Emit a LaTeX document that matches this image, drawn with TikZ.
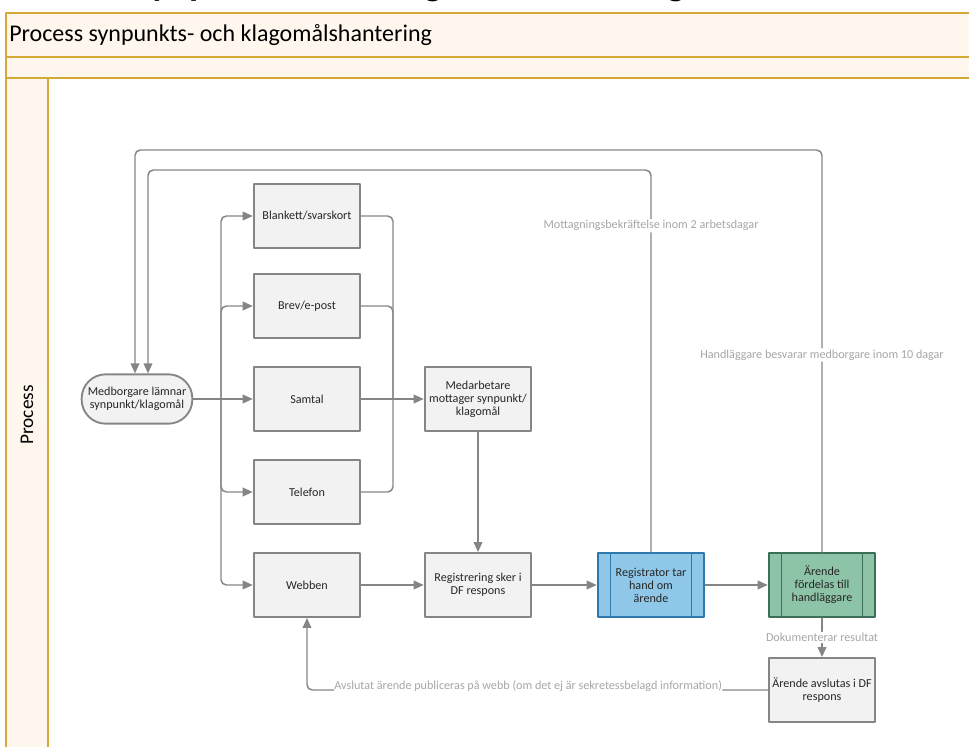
\documentclass[tikz,border=0pt]{standalone}
\usepackage{fontspec}
\setmainfont{Carlito}
\usetikzlibrary{positioning, arrows.meta}
\tikzset{>=latex}
\usepackage{xcolor}
\definecolor{poolgold}{HTML}{D4A935}
\definecolor{poolfill}{HTML}{FFF7EE}
\definecolor{boxgray}{HTML}{F2F2F2}
\definecolor{linegray}{HTML}{858585}
\definecolor{lblgray}{HTML}{A6A6A6}
\definecolor{regblue}{HTML}{8FC7E8}
\definecolor{regblueline}{HTML}{2F78AE}
\definecolor{fordgreen}{HTML}{8DC3A7}
\definecolor{fordgreenline}{HTML}{3D6E57}

\begin{document}
\begin{tikzpicture}[x=0.75pt, y=-0.75pt,
                    line cap=round, line join=round,
                    lane/.style={draw=poolgold, fill=poolfill, line width=1.5pt},
                    box/.style={draw=linegray, fill=boxgray, line width=1.4pt,
                                minimum width=80pt, minimum height=48pt, align=center,
                                inner sep=2pt, text=black!85,
                                font=\fontsize{9.1}{9.8}\selectfont},
                    start/.style={box, minimum width=83pt, minimum height=37pt,
                                  rounded corners=18pt},
                    subproc/.style={box, path picture={
                        \draw[line width=1.2pt]
                          ([xshift=9.5pt]path picture bounding box.north west) --
                          ([xshift=9.5pt]path picture bounding box.south west);
                        \draw[line width=1.2pt]
                          ([xshift=-9.5pt]path picture bounding box.north east) --
                          ([xshift=-9.5pt]path picture bounding box.south east);}},
                    conn/.style={linegray, line width=1.1pt, rounded corners=4pt},
                    arrow/.style={conn, -{Triangle[length=7.5pt,width=6.5pt]}},
                    lbl/.style={text=lblgray, fill=white, inner sep=1pt,
                                font=\fontsize{9.1}{9.8}\selectfont}]
  \path[use as bounding box, clip] (0,0) rectangle (969,746);

  % cut title
  \node[anchor=base west, inner sep=0pt, font=\bfseries\fontsize{28}{28}\selectfont]
    (title) at (12,-4.5) {Process synpunkts- och klagomålshantering};

  % pool and lane
  \draw[lane] (6,13) rectangle (990,57);
  \draw[lane] (6,57) rectangle (990,78);
  \draw[lane] (6,78) rectangle (48,770);
  \draw[draw=poolgold, line width=1.5pt] (48,78) rectangle (990,770);
  \node[anchor=west, inner sep=0pt, font=\fontsize{18}{20}\selectfont]
    (pool) at (9,35) {Process synpunkts- och klagomålshantering};
  \node[rotate=90, inner sep=0pt, font=\fontsize{14.5}{16}\selectfont]
    (lanename) at (27,415) {Process};

  % nodes
  \node[start] (medb) at (137,399) {Medborgare lämnar\\synpunkt/klagomål};
  \node[box] (blank) at (307,216) {Blankett/svarskort};
  \node[box] (brev) at (307,306) {Brev/e-post};
  \node[box] (samtal) at (307,399) {Samtal};
  \node[box] (tele) at (307,492) {Telefon};
  \node[box] (webb) at (307,585) {Webben};
  \node[box] (medarb) at (478,399) {Medarbetare\\mottager synpunkt/\\klagomål};
  \node[box] (regist) at (478,585) {Registrering sker i\\DF respons};
  \node[subproc, fill=regblue, draw=regblueline] (regtor) at (651,585)
    {Registrator tar\\hand om\\ärende};
  \node[subproc, fill=fordgreen, draw=fordgreenline] (fordel) at (822,585)
    {Ärende\\fördelas till\\handläggare};
  \node[box] (avsl) at (822,690) {Ärende avslutas i DF\\respons};

  \coordinate (split) at (221,399);
  \coordinate (merge) at (393,399);
  \coordinate (ackturn) at (148,170);
  \coordinate (replyturn) at (135,150);

  % channels
  \draw[conn] (medb) -- (split);
  \foreach \ch in {blank, brev, tele, webb}
    \draw[arrow] (split) |- (\ch);
  \draw[arrow] (split) -- (samtal);
  \foreach \ch in {blank, brev, tele}
    \draw[conn] (\ch) -| (merge);
  \draw[conn] (samtal) -- (merge);
  \draw[arrow] (merge) -- (medarb);

  % main flow
  \draw[arrow] (medarb) -- (regist);
  \draw[arrow] (webb) -- (regist);
  \draw[arrow] (regist) -- (regtor);
  \draw[arrow] (regtor) -- (fordel);
  \draw[arrow] (fordel) -- node[lbl] {Dokumenterar resultat} (avsl);

  % feedback to medborgare
  \draw[arrow] (regtor.north)
    -- node[lbl, pos=0.854] {Mottagningsbekräftelse inom 2 arbetsdagar}
       (regtor.north |- ackturn) -- (ackturn) -- (ackturn |- medb.north);
  \draw[arrow] (fordel.north)
    -- node[lbl, pos=0.49] {Handläggare besvarar medborgare inom 10 dagar}
       (fordel.north |- replyturn) -- (replyturn) -- (replyturn |- medb.north);
  \draw[arrow] (avsl.west)
    -- node[lbl, pos=0.52, yshift=3pt]
       {Avslutat ärende publiceras på webb (om det ej är sekretessbelagd information)}
       (avsl.west -| webb.south) -- (webb.south);
\end{tikzpicture}
\end{document}
